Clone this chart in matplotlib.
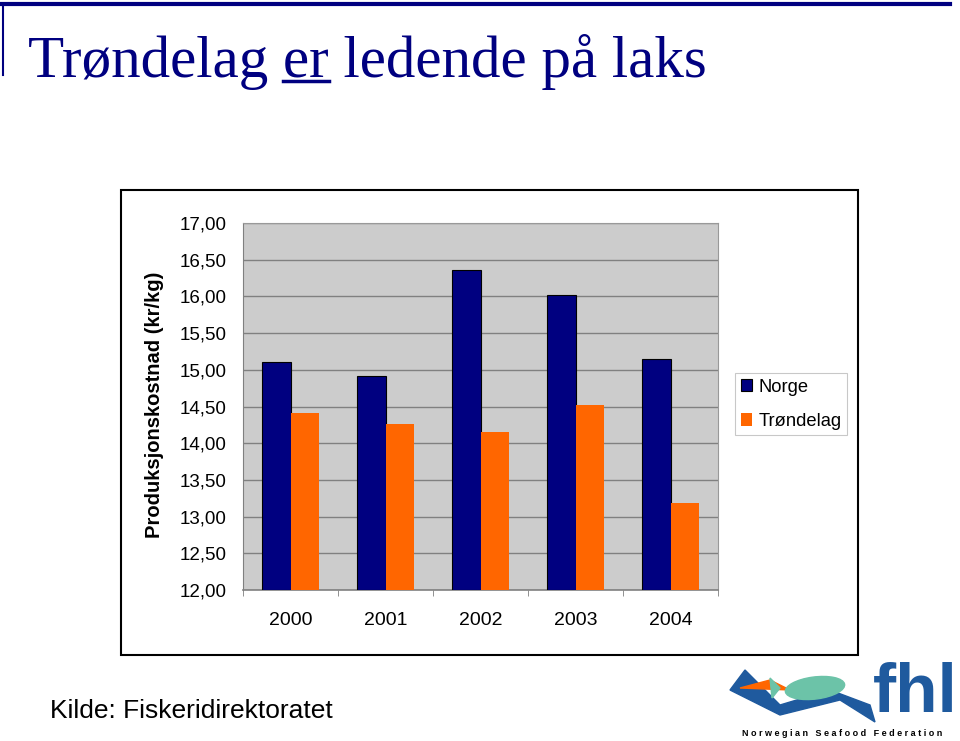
import matplotlib
matplotlib.use("Agg")
import matplotlib.pyplot as plt
import numpy as np
from matplotlib.patches import Rectangle, Polygon, Ellipse
from matplotlib.lines import Line2D

years = ["2000", "2001", "2002", "2003", "2004"]
norge = [15.11, 14.92, 16.36, 16.02, 15.15]
trondelag = [14.41, 14.26, 14.15, 14.52, 13.19]
yticks = [12.0, 12.5, 13.0, 13.5, 14.0, 14.5, 15.0, 15.5, 16.0, 16.5, 17.0]
ytick_labels = [f"{v:.2f}".replace(".", ",") for v in yticks]

NAVY = "#000080"
ORANGE = "#FF6600"
W, H = 960, 741

def fx(px):
    return px / W

def fy(py):
    return 1 - py / H

fig = plt.figure(figsize=(9.6, 7.41), dpi=100)
fig.patch.set_facecolor("white")
renderer = fig.canvas.get_renderer()

# decorative header lines
fig.add_artist(Line2D([0.0, fx(950)], [fy(4), fy(4)], color=NAVY, lw=3, transform=fig.transFigure))
fig.add_artist(Line2D([fx(3), fx(3)], [fy(4), fy(75)], color=NAVY, lw=1.5, transform=fig.transFigure))

title_kw = dict(family="Liberation Serif", fontsize=42.5, color=NAVY, va="baseline", ha="left")
title = fig.text(fx(28), fy(77), "Trøndelag er ledende på laks", **title_kw)
# underline under "er": measure substring widths
m1 = fig.text(fx(28), fy(77), "Trøndelag ", **title_kw)
m2 = fig.text(fx(28), fy(77), "Trøndelag er", **title_kw)
b0 = m1.get_window_extent(renderer)
b1 = m2.get_window_extent(renderer)
m1.remove()
m2.remove()
fig.add_artist(Line2D([b0.x1 / W, b1.x1 / W], [fy(81), fy(81)], color=NAVY, lw=2.5,
                      transform=fig.transFigure))

# chart outer box
fig.add_artist(Rectangle((fx(121), fy(655)), (858 - 121) / W, (655 - 190) / H,
                         transform=fig.transFigure, fill=False, edgecolor="black", lw=1.5))

ax = fig.add_axes([fx(243), fy(590), 475 / W, 367 / H])
ax.set_facecolor("#CCCCCC")
x = np.arange(len(years))
w = 0.295
ax.bar(x - w / 2, [v - 12 for v in norge], w, bottom=12, color=NAVY, edgecolor="black", lw=0.8,
       label="Norge", zorder=3)
ax.bar(x + w / 2, [v - 12 for v in trondelag], w, bottom=12, color=ORANGE, edgecolor=ORANGE, lw=0,
       label="Trøndelag", zorder=3)
ax.set_xlim(-0.5, 4.5)
ax.set_ylim(12, 17)
ax.set_yticks(yticks)
ax.set_yticklabels(ytick_labels, family="Liberation Sans", fontsize=13.5)
ax.set_xticks(x)
ax.set_xticklabels(years, family="Liberation Sans", fontsize=14)
ax.tick_params(axis="x", length=0, pad=16)
ax.tick_params(axis="y", length=0, pad=12)
ax.set_xticks(np.arange(-0.5, 5.0, 1.0), minor=True)
ax.tick_params(axis="x", which="minor", length=4, color="#808080", direction="out")
ax.grid(axis="y", color="#808080", lw=1, zorder=1)
for s in ["top", "right"]:
    ax.spines[s].set_color("#999999")
ax.spines["left"].set_color("#808080")
ax.spines["bottom"].set_color("#808080")
ax.spines["bottom"].set_linewidth(1.2)

fig.text(fx(155), fy(405), "Produksjonskostnad (kr/kg)", rotation=90, family="Liberation Sans",
         fontsize=14.5, fontweight="bold", ha="center", va="center")

leg = ax.legend(loc="upper left", bbox_to_anchor=(fx(735), fy(373)), bbox_transform=fig.transFigure,
                prop={"family": "Liberation Sans", "size": 13.2}, frameon=True, fancybox=False,
                edgecolor="#bbbbbb", handlelength=0.65, handleheight=0.65, handletextpad=0.35,
                borderpad=0.3, labelspacing=0.95, borderaxespad=0)
leg.get_frame().set_linewidth(0.8)

fig.text(fx(50), fy(711), "Kilde: Fiskeridirektoratet", family="Liberation Sans", fontsize=19,
         ha="left", va="center")

# logo approximation
LOGO_BLUE = "#1F5A9E"
fig.text(fx(958), fy(694), "fhl", family="Liberation Sans", fontsize=50, fontweight="bold",
         color=LOGO_BLUE, ha="right", va="center")
fig.text(fx(842), fy(734), "N o r w e g i a n   S e a f o o d   F e d e r a t i o n",
         family="Liberation Sans", fontsize=6.5, fontweight="bold", ha="center", va="center")
fig.add_artist(Polygon([[fx(730), fy(690)], [fx(780), fy(715)], [fx(840), fy(700)],
                        [fx(875), fy(722)], [fx(870), fy(705)], [fx(830), fy(690)],
                        [fx(780), fy(705)], [fx(745), fy(670)]],
                       transform=fig.transFigure, color=LOGO_BLUE))
fig.add_artist(Polygon([[fx(740), fy(688)], [fx(770), fy(680)], [fx(790), fy(690)]],
                       transform=fig.transFigure, color=ORANGE))
fig.add_artist(Ellipse((fx(815), fy(688)), 60 / W, 22 / H, angle=10, transform=fig.transFigure,
                       color="#6CC3A8"))
fig.add_artist(Polygon([[fx(780), fy(688)], [fx(770), fy(678)], [fx(772), fy(698)]],
                       transform=fig.transFigure, color="#6CC3A8"))

fig.savefig("out.png", dpi=100)
